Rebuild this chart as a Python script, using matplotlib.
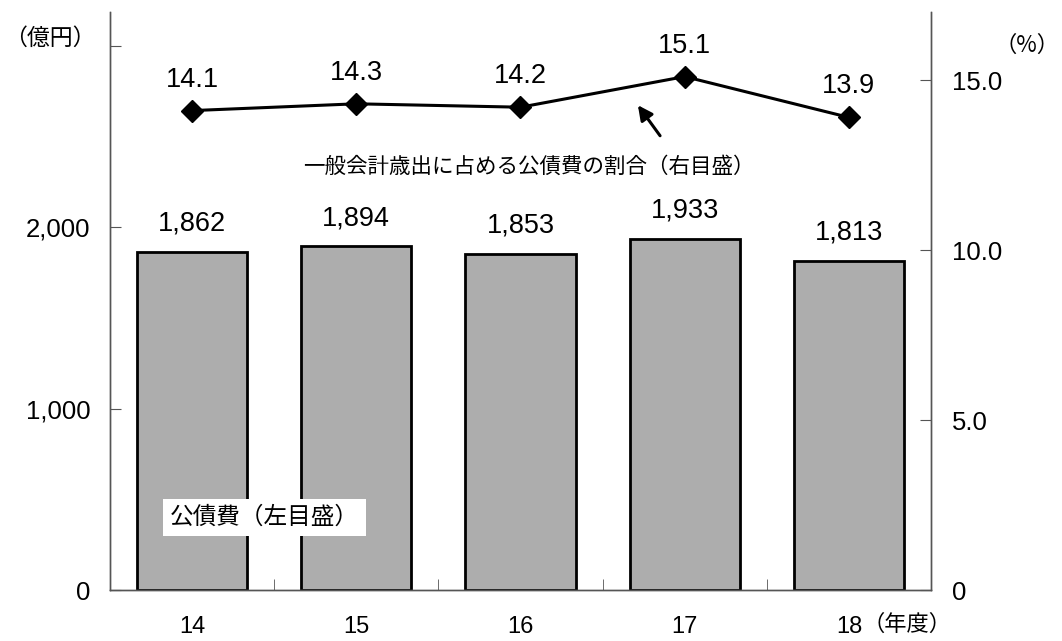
import matplotlib
matplotlib.use("Agg")
import matplotlib.pyplot as plt
import numpy as np

plt.rcParams["font.family"] = ["Liberation Sans", "Noto Sans CJK JP", "DejaVu Sans"]

years = ["14", "15", "16", "17", "18"]
debt = [1862, 1894, 1853, 1933, 1813]          # 公債費 (億円)
ratio = [14.1, 14.3, 14.2, 15.1, 13.9]         # 割合 (%)
left_ticks = [0, 1000, 2000, 3000]
left_labels = ["0", "1,000", "2,000", ""]
right_ticks = [0, 5, 10, 15]
right_labels = ["0", "5.0", "10.0", "15.0"]

jp = ["Noto Sans CJK JP", "DejaVu Sans"]
x = np.arange(len(years))

fig = plt.figure(figsize=(10.62, 6.41), dpi=100)
ax = fig.add_axes([110 / 1062, 51 / 641, 821 / 1062, 578 / 641])
ax2 = ax.twinx()

ax.bar(x, debt, width=0.67, color="#adadad", edgecolor="black", linewidth=2, zorder=2)
for xi, v in zip(x, debt):
    ax.annotate(f"{v:,}", xy=(xi, v), xytext=(0, 11), textcoords="offset points",
                ha="center", va="bottom", fontsize=19.5)

ax.set_xlim(-0.5, len(years) - 0.5)
ax.set_ylim(0, 3185)
ax.set_yticks(left_ticks)
ax.set_yticklabels(left_labels)
ax.set_xticks(x)
ax.set_xticklabels(years)
ax.set_xticks(np.arange(len(years) + 1) - 0.5, minor=True)
ax.tick_params(axis="x", which="major", length=0, pad=19, labelsize=17)
ax.tick_params(axis="x", which="minor", direction="in", length=8, color="#555555")
ax.tick_params(axis="y", direction="in", length=8, pad=14, labelsize=18.5, color="#555555")

ax2.plot(x, ratio, color="black", linewidth=2.2, marker="D", markersize=11.5, zorder=3)
for xi, v in zip(x, ratio):
    ax2.annotate(f"{v:.1f}", xy=(xi, v), xytext=(0, 13), textcoords="offset points",
                 ha="center", va="bottom", fontsize=19.5)
ax2.set_ylim(0, 17.0)
ax2.set_yticks(right_ticks)
ax2.set_yticklabels(right_labels)
ax2.tick_params(axis="y", direction="in", length=8, pad=15, labelsize=18.5, color="#555555")

for a in (ax, ax2):
    a.spines["top"].set_visible(False)
    for s in ("left", "right", "bottom"):
        a.spines[s].set_color("#555555")
        a.spines[s].set_linewidth(1.0)

# unit labels
fig.text(4 / 1062, 1 - 38 / 641, "（億円）", fontsize=16.5, family=jp, va="center", ha="left")
fig.text(1060 / 1062, 1 - 45 / 641, "（%）", fontsize=16, family=jp, va="center", ha="right")
ax.annotate("（年度）", xy=(len(years) - 1, 0), xytext=(10, -25), textcoords="offset points",
            ha="left", va="center", fontsize=16, family=jp, annotation_clip=False)

# series notes
ax.text(0.2355, 0.732, "一般会計歳出に占める公債費の割合（右目盛）", transform=ax.transAxes,
        fontsize=15.5, family=jp, ha="left", va="center", zorder=5)
ax2.annotate("", xy=(0.641, 0.8426), xytext=(0.672, 0.782), xycoords="axes fraction",
             textcoords="axes fraction",
             arrowprops=dict(arrowstyle="-|>", color="black", lw=2.2, mutation_scale=22))
ax.text(0.073, 0.126, "公債費（左目盛）", transform=ax.transAxes, fontsize=17, family=jp,
        ha="left", va="center", zorder=5,
        bbox=dict(facecolor="white", edgecolor="none", pad=5))

fig.savefig("out.png", dpi=100)
plt.close()
